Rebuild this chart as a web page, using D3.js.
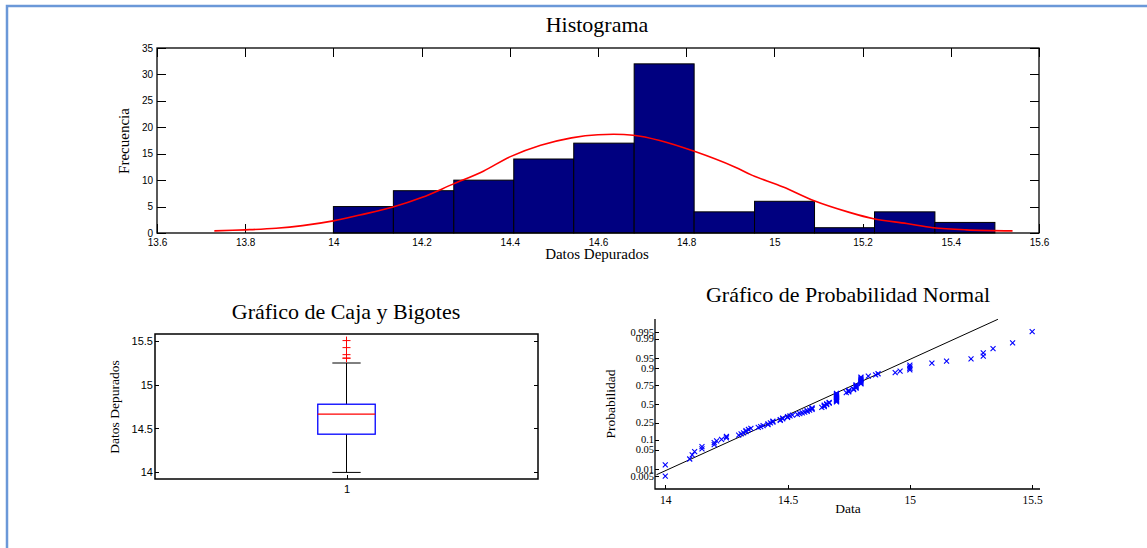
<!doctype html>
<html lang="es">
  <head>
    <meta charset="UTF-8" />
    <title>Histograma</title>
    <script src="https://d3js.org/d3.v7.min.js"></script>
    <style>
      body {
        margin: 0;
        padding: 0;
        background: #fff;
      }
      text {
        fill: #000;
      }
      .axis path {
        display: none;
      }
      .axis line {
        stroke: #000;
        shape-rendering: crispEdges;
      }
      .sans text {
        font-family: 'Liberation Sans', Arial, sans-serif;
      }
      .serif text,
      .title,
      .label {
        font-family: 'Liberation Serif', 'Times New Roman', serif;
      }
      .title {
        font-size: 22px;
      }
    </style>
  </head>
  <body>
    <svg id="chart" width="1147" height="548"></svg>

    <script>
      // histograma: bordes de clase y frecuencias
      const histEdges = [14.0, 14.136, 14.273, 14.409, 14.545, 14.682, 14.818, 14.955, 15.091, 15.227, 15.364, 15.5];
      const histCounts = [5, 8, 10, 14, 17, 32, 4, 6, 1, 4, 2];
      const histXTicks = [13.6, 13.8, 14, 14.2, 14.4, 14.6, 14.8, 15, 15.2, 15.4, 15.6];
      const histYTicks = [0, 5, 10, 15, 20, 25, 30, 35];

      // curva normal ajustada
      const fitX = [13.73, 13.8, 13.87, 13.93, 14.0, 14.06, 14.135, 14.2, 14.27, 14.34, 14.4, 14.47, 14.54, 14.6, 14.68, 14.74, 14.82, 14.91, 14.95, 15.02, 15.09, 15.17, 15.225, 15.3, 15.36, 15.435, 15.54];
      const fitY = [0.4, 0.6, 0.9, 1.4, 2.3, 3.4, 4.9, 6.7, 9.2, 11.7, 14.4, 16.6, 18.0, 18.6, 18.5, 17.5, 15.4, 12.5, 10.9, 8.7, 6.1, 3.9, 2.7, 1.8, 1.0, 0.6, 0.4];

      // caja y bigotes: [bigote inf, Q1, mediana, Q3, bigote sup]
      const boxStats = [14.0, 14.435, 14.663, 14.776, 15.245];
      const boxOutliers = [15.3, 15.3, 15.34, 15.42, 15.5];
      const boxYTicks = [14, 14.5, 15, 15.5];

      // datos depurados (ordenados)
      const datos = [
        14.0, 14.0, 14.1, 14.11, 14.12,
        14.15, 14.15, 14.2, 14.2, 14.21, 14.23, 14.25, 14.25,
        14.3, 14.31, 14.32, 14.33, 14.33, 14.34, 14.35, 14.38, 14.39, 14.4,
        14.42, 14.42, 14.43, 14.44, 14.44, 14.47, 14.47, 14.48, 14.48, 14.5, 14.5, 14.51, 14.52, 14.54,
        14.55, 14.56, 14.57, 14.58, 14.58, 14.59, 14.6, 14.6, 14.6, 14.64, 14.65, 14.65, 14.65, 14.66, 14.66, 14.67, 14.67,
        14.7, 14.7, 14.7, 14.7, 14.7, 14.7, 14.7, 14.7, 14.7, 14.7, 14.7, 14.7, 14.7,
        14.74, 14.75, 14.75, 14.75, 14.77, 14.77, 14.78, 14.78, 14.78, 14.78, 14.78,
        14.8, 14.8, 14.8, 14.8, 14.8, 14.8, 14.8, 14.8,
        14.83, 14.86, 14.87, 14.94,
        14.96, 15.0, 15.0, 15.0, 15.0, 15.09,
        15.15,
        15.25, 15.3, 15.3, 15.34,
        15.42, 15.5,
      ];

      // probabilidad normal
      const probTicks = [0.005, 0.01, 0.05, 0.1, 0.25, 0.5, 0.75, 0.9, 0.95, 0.99, 0.995];
      const normXTicks = [14, 14.5, 15, 15.5];
      const refLineX = [13.964, 15.36];
      const refLineP = [0.0056, 0.99876];

      // inversa de la normal estandar (Acklam)
      function probit(p) {
        const a = [-39.69683028665376, 220.9460984245205, -275.9285104469687, 138.357751867269, -30.66479806614716, 2.506628277459239];
        const b = [-54.47609879822406, 161.5858368580409, -155.6989798598866, 66.80131188771972, -13.28068155288572];
        const c = [-0.007784894002430293, -0.3223964580411365, -2.400758277161838, -2.549732539343734, 4.374664141464968, 2.938163982698783];
        const d = [0.007784695709041462, 0.3224671290700398, 2.445134137142996, 3.754408661907416];
        const pl = 0.02425;
        let q, r;
        if (p < pl) {
          q = Math.sqrt(-2 * Math.log(p));
          return (((((c[0] * q + c[1]) * q + c[2]) * q + c[3]) * q + c[4]) * q + c[5]) /
            ((((d[0] * q + d[1]) * q + d[2]) * q + d[3]) * q + 1);
        }
        if (p > 1 - pl) {
          q = Math.sqrt(-2 * Math.log(1 - p));
          return -(((((c[0] * q + c[1]) * q + c[2]) * q + c[3]) * q + c[4]) * q + c[5]) /
            ((((d[0] * q + d[1]) * q + d[2]) * q + d[3]) * q + 1);
        }
        q = p - 0.5;
        r = q * q;
        return (((((a[0] * r + a[1]) * r + a[2]) * r + a[3]) * r + a[4]) * r + a[5]) * q /
          (((((b[0] * r + b[1]) * r + b[2]) * r + b[3]) * r + b[4]) * r + 1);
      }

      const fmt = d3.format('~g');
      const svg = d3.select('#chart');

      // marco azul
      svg
        .append('path')
        .attr('d', 'M7,548V6H1147')
        .attr('fill', 'none')
        .attr('stroke', '#6b98d8')
        .attr('stroke-width', 2.5);

      // ---------------- Histograma ----------------
      const hx = d3.scaleLinear().domain([13.6, 15.6]).range([157, 1039]);
      const hy = d3.scaleLinear().domain([0, 35]).range([233, 48]);
      const hTick = 9;

      svg
        .append('g')
        .attr('class', 'axis sans')
        .attr('transform', `translate(0,${hy(0)})`)
        .call(d3.axisBottom(hx).tickValues(histXTicks).tickFormat(fmt).tickSizeInner(-hTick).tickSizeOuter(0).tickPadding(6))
        .selectAll('text')
        .style('font-size', '10px');
      svg
        .append('g')
        .attr('class', 'axis')
        .attr('transform', `translate(0,${hy(35)})`)
        .call(d3.axisTop(hx).tickValues(histXTicks).tickFormat('').tickSizeInner(-hTick).tickSizeOuter(0));
      svg
        .append('g')
        .attr('class', 'axis sans')
        .attr('transform', `translate(${hx(13.6)},0)`)
        .call(d3.axisLeft(hy).tickValues(histYTicks).tickSizeInner(-hTick).tickSizeOuter(0).tickPadding(4))
        .selectAll('text')
        .style('font-size', '10px')
        .attr('dy', '0.3em');
      svg
        .append('g')
        .attr('class', 'axis')
        .attr('transform', `translate(${hx(15.6)},0)`)
        .call(d3.axisRight(hy).tickValues(histYTicks).tickFormat('').tickSizeInner(-hTick).tickSizeOuter(0));

      const bins = histCounts.map((c, i) => ({ x0: histEdges[i], x1: histEdges[i + 1], c: c }));
      svg
        .append('g')
        .selectAll('rect')
        .data(bins)
        .enter()
        .append('rect')
        .attr('x', (d) => hx(d.x0))
        .attr('y', (d) => hy(d.c))
        .attr('width', (d) => hx(d.x1) - hx(d.x0))
        .attr('height', (d) => hy(0) - hy(d.c))
        .attr('fill', '#000080')
        .attr('stroke', '#000')
        .attr('stroke-width', 1);

      svg
        .append('path')
        .datum(fitX.map((x, i) => [x, fitY[i]]))
        .attr('fill', 'none')
        .attr('stroke', '#ff0000')
        .attr('stroke-width', 1.6)
        .attr('d', d3.line().x((d) => hx(d[0])).y((d) => hy(d[1])).curve(d3.curveCatmullRom));

      svg
        .append('rect')
        .attr('x', hx(13.6))
        .attr('y', hy(35))
        .attr('width', hx(15.6) - hx(13.6))
        .attr('height', hy(0) - hy(35))
        .attr('fill', 'none')
        .attr('stroke', '#000')
        .attr('stroke-width', 1.3);

      svg.append('text').attr('class', 'title').attr('x', 597).attr('y', 32).attr('text-anchor', 'middle').text('Histograma');
      svg
        .append('text')
        .attr('class', 'label')
        .attr('x', 597)
        .attr('y', 259)
        .attr('text-anchor', 'middle')
        .style('font-size', '15px')
        .text('Datos Depurados');
      svg
        .append('text')
        .attr('class', 'label')
        .attr('transform', 'translate(129,141) rotate(-90)')
        .attr('text-anchor', 'middle')
        .style('font-size', '15px')
        .text('Frecuencia');

      // ---------------- Caja y Bigotes ----------------
      const bx = d3.scaleLinear().domain([0.5, 1.5]).range([155, 538]);
      const by = d3.scaleLinear().domain([13.925, 15.575]).range([479, 334]);
      const bTick = 4;
      const boxHalf = 0.075;
      const capHalf = 0.037;

      svg
        .append('g')
        .attr('class', 'axis sans')
        .attr('transform', `translate(${bx(0.5)},0)`)
        .call(d3.axisLeft(by).tickValues(boxYTicks).tickFormat(fmt).tickSizeInner(-bTick).tickSizeOuter(0).tickPadding(2))
        .selectAll('text')
        .style('font-size', '11px');
      svg
        .append('g')
        .attr('class', 'axis')
        .attr('transform', `translate(${bx(1.5)},0)`)
        .call(d3.axisRight(by).tickValues(boxYTicks).tickFormat('').tickSizeInner(-bTick).tickSizeOuter(0));
      svg
        .append('g')
        .attr('class', 'axis sans')
        .attr('transform', `translate(0,${by(13.925)})`)
        .call(d3.axisBottom(bx).tickValues([1]).tickFormat(fmt).tickSizeInner(-bTick).tickSizeOuter(0).tickPadding(6))
        .selectAll('text')
        .style('font-size', '11px');

      const bg = svg.append('g');
      // bigotes
      bg.append('line')
        .attr('x1', bx(1)).attr('x2', bx(1))
        .attr('y1', by(boxStats[3])).attr('y2', by(boxStats[4]))
        .attr('stroke', '#000');
      bg.append('line')
        .attr('x1', bx(1)).attr('x2', bx(1))
        .attr('y1', by(boxStats[0])).attr('y2', by(boxStats[1]))
        .attr('stroke', '#000');
      [boxStats[0], boxStats[4]].forEach((v) => {
        bg.append('line')
          .attr('x1', bx(1 - capHalf)).attr('x2', bx(1 + capHalf))
          .attr('y1', by(v)).attr('y2', by(v))
          .attr('stroke', '#000');
      });
      bg.append('rect')
        .attr('x', bx(1 - boxHalf))
        .attr('y', by(boxStats[3]))
        .attr('width', bx(1 + boxHalf) - bx(1 - boxHalf))
        .attr('height', by(boxStats[1]) - by(boxStats[3]))
        .attr('fill', 'none')
        .attr('stroke', '#0000ff')
        .attr('stroke-width', 1.3);
      bg.append('line')
        .attr('x1', bx(1 - boxHalf)).attr('x2', bx(1 + boxHalf))
        .attr('y1', by(boxStats[2])).attr('y2', by(boxStats[2]))
        .attr('stroke', '#ff0000')
        .attr('stroke-width', 1.3);
      bg.selectAll('.out')
        .data(boxOutliers)
        .enter()
        .append('path')
        .attr('class', 'out')
        .attr('transform', (d) => `translate(${bx(1)},${by(d)})`)
        .attr('d', 'M-4,0H4M0,-4V4')
        .attr('stroke', '#ff0000')
        .attr('stroke-width', 1);

      svg
        .append('rect')
        .attr('x', bx(0.5))
        .attr('y', by(15.575))
        .attr('width', bx(1.5) - bx(0.5))
        .attr('height', by(13.925) - by(15.575))
        .attr('fill', 'none')
        .attr('stroke', '#000')
        .attr('stroke-width', 1.5);

      svg.append('text').attr('class', 'title').attr('x', 346).attr('y', 319).attr('text-anchor', 'middle').text('Gráfico de Caja y Bigotes');
      svg
        .append('text')
        .attr('class', 'label')
        .attr('transform', 'translate(119,407) rotate(-90)')
        .attr('text-anchor', 'middle')
        .style('font-size', '13.5px')
        .text('Datos Depurados');

      // ---------------- Probabilidad Normal ----------------
      const nx = d3.scaleLinear().domain([13.958, 15.532]).range([655, 1040]);
      const nz = d3.scaleLinear().domain([-3.046, 3.036]).range([489, 319]);
      const nTick = 4;

      svg
        .append('g')
        .attr('class', 'axis serif')
        .attr('transform', `translate(${nx(13.958)},0)`)
        .call(
          d3.axisLeft(nz)
            .tickValues(probTicks.map(probit))
            .tickFormat((d, i) => String(probTicks[i]))
            .tickSizeInner(-nTick)
            .tickSizeOuter(0)
            .tickPadding(1),
        )
        .selectAll('text')
        .style('font-size', '10.5px')
        .attr('dy', '0.3em');
      svg
        .append('g')
        .attr('class', 'axis serif')
        .attr('transform', `translate(0,${nz(-3.046)})`)
        .call(d3.axisBottom(nx).tickValues(normXTicks).tickFormat(fmt).tickSizeInner(-nTick).tickSizeOuter(0).tickPadding(7))
        .selectAll('text')
        .style('font-size', '11.5px');

      svg
        .append('path')
        .attr('d', `M${nx(13.958)},${nz(3.036)}V${nz(-3.046)}H${nx(15.532)}`)
        .attr('fill', 'none')
        .attr('stroke', '#000')
        .attr('stroke-width', 1.3);

      svg
        .append('line')
        .attr('x1', nx(refLineX[0]))
        .attr('y1', nz(probit(refLineP[0])))
        .attr('x2', nx(refLineX[1]))
        .attr('y2', nz(probit(refLineP[1])))
        .attr('stroke', '#000')
        .attr('stroke-width', 1);

      const n = datos.length;
      svg
        .append('g')
        .selectAll('path')
        .data(datos)
        .enter()
        .append('path')
        .attr('transform', (d, i) => `translate(${nx(d)},${nz(probit((i + 0.5) / n))})`)
        .attr('d', 'M-2.5,-2.5L2.5,2.5M-2.5,2.5L2.5,-2.5')
        .attr('stroke', '#0000ff')
        .attr('stroke-width', 1.1);

      svg.append('text').attr('class', 'title').attr('x', 848).attr('y', 302).attr('text-anchor', 'middle').text('Gráfico de Probabilidad Normal');
      svg
        .append('text')
        .attr('class', 'label')
        .attr('transform', 'translate(615,404) rotate(-90)')
        .attr('text-anchor', 'middle')
        .style('font-size', '13.5px')
        .text('Probabilidad');
      svg
        .append('text')
        .attr('class', 'label')
        .attr('x', 848)
        .attr('y', 513)
        .attr('text-anchor', 'middle')
        .style('font-size', '13.5px')
        .text('Data');
    </script>
  </body>
</html>
